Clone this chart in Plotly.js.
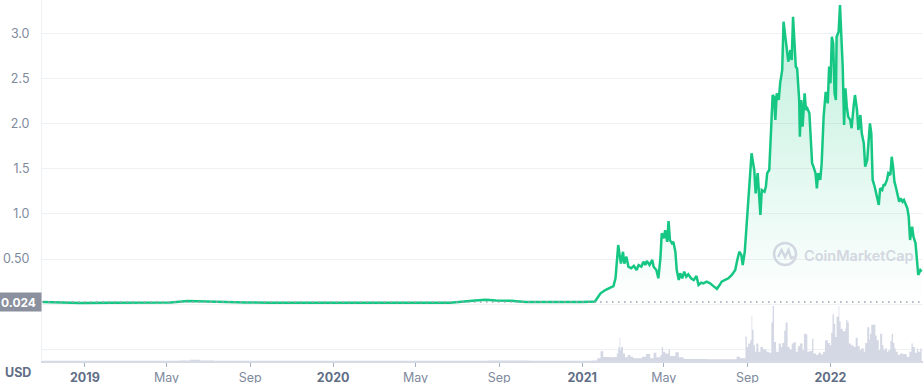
<!DOCTYPE html>
<html>
<head>
<meta charset="utf-8">
<script src="https://cdn.plot.ly/plotly-3.0.1.min.js"></script>
<style>
  html, body { margin: 0; padding: 0; background: #ffffff; }
  #chart { width: 924px; height: 383px; }
</style>
</head>
<body>
<div id="chart"></div>
<script>
// ---------- DATA ----------
const baselinePrice = 0.024;

const priceDates = [
  '2018-10-31','2018-11-09','2018-11-19','2018-12-26','2019-02-07','2019-03-23','2019-05-07','2019-06-01',
  '2019-06-20','2019-07-12','2019-07-30','2019-08-25','2019-10-01','2019-11-14','2020-01-12','2020-03-11',
  '2020-05-08','2020-06-21','2020-07-28','2020-08-12','2020-08-27','2020-09-18','2020-10-10','2020-11-08',
  '2020-12-08','2021-01-01','2021-01-12','2021-01-20',
  '2021-01-23','2021-01-28','2021-02-04','2021-02-11','2021-02-16','2021-02-19','2021-02-21','2021-02-23',
  '2021-02-25','2021-02-27','2021-03-02','2021-03-04','2021-03-07','2021-03-10','2021-03-14','2021-03-18',
  '2021-03-22','2021-03-25','2021-03-29','2021-04-01','2021-04-04','2021-04-06','2021-04-10','2021-04-14',
  '2021-04-16','2021-04-20','2021-04-23','2021-04-26','2021-04-28','2021-05-01','2021-05-03','2021-05-06',
  '2021-05-08','2021-05-10','2021-05-13','2021-05-15','2021-05-18','2021-05-20','2021-05-23','2021-05-25',
  '2021-05-28','2021-05-31','2021-06-03','2021-06-06','2021-06-10','2021-06-14','2021-06-18','2021-06-21',
  '2021-06-25','2021-06-28','2021-07-03','2021-07-08','2021-07-13','2021-07-18','2021-07-22','2021-07-25',
  '2021-07-30','2021-08-04','2021-08-09','2021-08-14','2021-08-17','2021-08-20','2021-08-23','2021-08-25',
  '2021-08-28','2021-08-30','2021-09-01','2021-09-04','2021-09-07','2021-09-11','2021-09-13','2021-09-16',
  '2021-09-18','2021-09-20','2021-09-22','2021-09-26','2021-09-28','2021-09-30','2021-10-03','2021-10-06',
  '2021-10-08','2021-10-10','2021-10-12','2021-10-14','2021-10-17','2021-10-19','2021-10-22','2021-10-24',
  '2021-10-26','2021-10-29','2021-10-31','2021-11-03','2021-11-05','2021-11-07','2021-11-09','2021-11-11',
  '2021-11-13','2021-11-16','2021-11-17','2021-11-19','2021-11-21','2021-11-24','2021-11-26','2021-11-28',
  '2021-12-01','2021-12-03','2021-12-05','2021-12-07','2021-12-10','2021-12-12','2021-12-14','2021-12-17',
  '2021-12-19','2021-12-22','2021-12-25','2021-12-28','2021-12-30','2022-01-01','2022-01-03','2022-01-05',
  '2022-01-07','2022-01-09','2022-01-10','2022-01-13','2022-01-15','2022-01-17','2022-01-19','2022-01-21',
  '2022-01-23','2022-01-25','2022-01-27','2022-01-30','2022-02-01','2022-02-04','2022-02-06','2022-02-09',
  '2022-02-11','2022-02-14','2022-02-16','2022-02-19','2022-02-21','2022-02-24','2022-02-26','2022-02-28',
  '2022-03-02','2022-03-04','2022-03-07','2022-03-09','2022-03-13','2022-03-15','2022-03-18','2022-03-20',
  '2022-03-22','2022-03-25','2022-03-27','2022-03-30','2022-04-01','2022-04-03','2022-04-05','2022-04-07',
  '2022-04-10','2022-04-12','2022-04-14','2022-04-17','2022-04-19','2022-04-22','2022-04-24','2022-04-26',
  '2022-04-28','2022-05-01','2022-05-03','2022-05-06','2022-05-08','2022-05-10','2022-05-13','2022-05-15'
];

const priceValues = [
  0.024,0.022,0.016,0.014,0.015,0.016,0.018,0.034,
  0.030,0.030,0.028,0.020,0.017,0.016,0.016,0.015,
  0.014,0.015,0.040,0.048,0.040,0.038,0.025,0.022,
  0.022,0.024,0.028,0.030,
  0.065,0.120,0.157,0.187,0.200,0.287,0.526,0.655,
  0.545,0.450,0.580,0.450,0.526,0.415,0.397,0.423,
  0.378,0.434,0.415,0.470,0.434,0.480,0.434,0.490,
  0.415,0.378,0.287,0.508,0.785,0.730,0.820,0.690,
  0.920,0.710,0.674,0.690,0.580,0.378,0.268,0.342,
  0.287,0.360,0.305,0.330,0.287,0.268,0.312,0.212,
  0.238,0.231,0.250,0.231,0.200,0.170,0.212,0.250,
  0.268,0.287,0.323,0.378,0.490,0.580,0.545,0.434,
  0.580,0.800,0.930,1.375,1.670,1.485,1.227,1.450,
  1.227,0.987,1.264,1.245,1.300,1.450,1.485,1.965,
  2.315,2.297,2.040,2.334,2.260,2.445,2.590,3.127,
  2.998,2.777,2.684,2.813,2.703,3.182,2.960,2.629,
  2.610,2.260,1.854,2.260,1.965,2.334,2.150,2.168,
  2.113,1.743,1.560,1.522,1.450,1.283,1.450,1.375,
  1.550,2.080,2.350,2.223,2.629,2.445,2.960,2.887,
  2.334,2.260,2.960,3.016,3.310,2.960,2.629,1.983,
  2.390,2.186,2.076,2.040,1.948,2.186,2.315,2.150,
  1.928,2.094,1.892,1.780,1.522,1.596,1.780,2.002,
  1.892,1.375,1.300,1.227,1.098,1.283,1.264,1.320,
  1.320,1.375,1.450,1.430,1.632,1.522,1.356,1.300,
  1.190,1.134,1.172,1.134,1.153,1.098,1.061,0.968,
  0.710,0.858,0.747,0.674,0.489,0.323,0.378,0.360
];

const volumeDates = [
  '2018-10-31','2019-03-01','2019-05-20','2019-06-05','2019-06-20','2019-07-10','2019-10-01','2020-03-10',
  '2020-06-01','2020-08-15','2020-09-05','2020-10-15','2020-12-15','2021-01-15',
  '2021-01-23','2021-01-28','2021-02-01','2021-02-06','2021-02-11','2021-02-19','2021-02-21','2021-02-23',
  '2021-02-25','2021-02-26','2021-02-27','2021-03-02','2021-03-05','2021-03-09','2021-03-13','2021-03-17',
  '2021-03-24','2021-03-30','2021-04-05','2021-04-11','2021-04-16','2021-04-20','2021-04-26','2021-04-28',
  '2021-04-30','2021-05-03','2021-05-08','2021-05-10','2021-05-18','2021-05-23','2021-05-30','2021-06-24',
  '2021-07-04','2021-08-11','2021-08-16','2021-08-21','2021-08-29','2021-08-31','2021-09-02','2021-09-05',
  '2021-09-07','2021-09-08','2021-09-10','2021-09-12','2021-09-14','2021-09-17','2021-09-20','2021-09-24',
  '2021-09-29','2021-10-03','2021-10-06','2021-10-08','2021-10-10','2021-10-13','2021-10-17','2021-10-20',
  '2021-10-22','2021-10-25','2021-10-27','2021-10-30','2021-11-02','2021-11-05','2021-11-08','2021-11-11',
  '2021-11-14','2021-11-17','2021-11-21','2021-11-23','2021-11-26','2021-11-28','2021-12-01','2021-12-05',
  '2021-12-07','2021-12-11','2021-12-14','2021-12-18','2021-12-21','2021-12-24','2021-12-28','2021-12-31',
  '2022-01-02','2022-01-04','2022-01-06','2022-01-08','2022-01-10','2022-01-13','2022-01-14','2022-01-16',
  '2022-01-19','2022-01-23','2022-01-24','2022-01-26','2022-01-28','2022-01-31','2022-02-04','2022-02-07',
  '2022-02-10','2022-02-13','2022-02-15','2022-02-19','2022-02-21','2022-02-24','2022-02-27','2022-02-28',
  '2022-03-02','2022-03-05','2022-03-08','2022-03-10','2022-03-13','2022-03-15','2022-03-18','2022-03-20',
  '2022-03-22','2022-03-25','2022-03-27','2022-03-30','2022-04-01','2022-04-03','2022-04-05','2022-04-07',
  '2022-04-10','2022-04-13','2022-04-17','2022-04-21','2022-04-23','2022-04-27','2022-04-30','2022-05-02',
  '2022-05-05','2022-05-08','2022-05-10','2022-05-13','2022-05-15'
];

const volumeValues = [
  0.2,0.2,0.4,1.2,0.6,0.3,0.2,0.2,
  0.2,0.4,0.5,0.2,0.2,0.6,
  2.7,10,4,4,3.7,4,7.7,13.7,
  23.3,11,14.3,7.7,3.7,6,4.3,2.7,
  2.7,4.3,7,2.7,8.3,3.7,6,14.3,
  9.3,7.7,11.7,5,9,3.7,2,2,
  1.7,1.7,4.3,2.7,25,14.3,17.7,21,
  46,31.7,16,9.3,17.7,9.3,14.3,11.7,
  9.3,8.3,39.3,56,19.3,9.3,17.7,14.3,
  18.3,31,39.3,14.3,11.7,17.7,19.3,9.3,
  15,17.7,11,27.7,27,9.3,10.3,22.7,
  7.7,6,8.3,6.7,9.3,21,18.3,16,
  28.7,47.7,37.7,24.3,45,56,40.3,32.7,
  30.3,33.7,41.7,39.3,17.7,16,14.3,23.7,
  15,11,12.7,9.3,18.3,34.3,21.7,27.7,
  37,37,26,21,11,27.7,16,11,
  12.7,9.3,11,20.3,27.7,18.3,12.7,9.3,
  6,7.7,7,7,4.3,9.3,17.7,14.3,
  8.3,12.7,9.3,12.7,9.3
];

const xTickDates  = ['2019-01-01','2019-05-01','2019-09-01','2020-01-01','2020-05-01','2020-09-01','2021-01-01','2021-05-01','2021-09-01','2022-01-01'];
const xTickLabels = ['2019','May','Sep','2020','May','Sep','2021','May','Sep','2022'];
const yTickValues = [0, 0.5, 1, 1.5, 2, 2.5, 3];
const yTickLabels = ['', '0.50', '1.0', '1.5', '2.0', '2.5', '3.0'];

// ---------- STYLE ----------
const GREEN = '#16c784';
const GRID = '#eff2f5';
const LABEL = '#808a9d';
const DARK = '#616e85';

const xTickText = xTickLabels.map(t => /^\d{4}$/.test(t)
  ? '<span style="font-weight:700;color:' + DARK + '">' + t + '</span>' : t);

const traces = [
  {
    x: volumeDates, y: volumeValues, xaxis: 'x', yaxis: 'y2',
    type: 'scatter', mode: 'lines', line: {shape: 'hv', width: 0, color: '#cfd5e2'},
    fill: 'tozeroy', fillcolor: '#d3d8e4', hoverinfo: 'skip'
  },
  {
    x: priceDates, y: priceValues, xaxis: 'x', yaxis: 'y',
    type: 'scatter', mode: 'lines',
    line: {color: GREEN, width: 2.5},
    fill: 'tozeroy',
    fillgradient: {type: 'vertical', colorscale: [[0, 'rgba(22,199,132,0.0)'], [1, 'rgba(22,199,132,0.28)']]},
    hoverinfo: 'skip'
  }
];

const domSplit = 0.1524;

const layout = {
  width: 924, height: 383,
  margin: {l: 42, r: 1, t: 0, b: 22},
  paper_bgcolor: '#ffffff', plot_bgcolor: '#ffffff',
  font: {family: 'Inter, "Open Sans", sans-serif', size: 12, color: LABEL},
  showlegend: false,
  xaxis: {
    type: 'date', range: ['2018-10-30', '2022-05-17'], anchor: 'y2',
    tickmode: 'array', tickvals: xTickDates, ticktext: xTickText,
    ticks: 'outside', ticklen: 4, tickwidth: 1, tickcolor: '#a6b0c3',
    showline: true, linecolor: '#d5dae4', linewidth: 1.5,
    showgrid: false, zeroline: false,
    tickfont: {size: 12.5, color: LABEL}
  },
  yaxis: {
    domain: [domSplit, 1], range: [-0.0199, 3.367],
    tickmode: 'array', tickvals: yTickValues, ticktext: yTickLabels,
    gridcolor: GRID, gridwidth: 1, zeroline: false,
    showline: true, linecolor: GRID, linewidth: 1,
    ticks: '', ticklabelstandoff: 9,
    tickfont: {size: 12.5, color: LABEL}
  },
  yaxis2: {
    domain: [0, domSplit], range: [0, 56],
    tickmode: 'array', tickvals: [11.7], showticklabels: false,
    gridcolor: GRID, gridwidth: 1, zeroline: false,
    showline: true, linecolor: GRID, linewidth: 1
  },
  shapes: [
    {type: 'line', xref: 'paper', x0: 0, x1: 1, yref: 'y', y0: baselinePrice, y1: baselinePrice,
     line: {color: '#9aa2b1', width: 1.5, dash: '1.5px,4.5px'}},
    // CoinMarketCap watermark logo
    {type: 'circle', xref: 'paper', yref: 'paper', xsizemode: 'pixel', ysizemode: 'pixel',
     xanchor: 0.8434, yanchor: 0.2964, x0: -11, x1: 11, y0: -11, y1: 11,
     line: {color: '#d3d7e1', width: 2.5}, fillcolor: 'rgba(0,0,0,0)'},
    {type: 'path', xref: 'paper', yref: 'paper', xsizemode: 'pixel', ysizemode: 'pixel',
     xanchor: 0.8434, yanchor: 0.2964,
     path: 'M -7 -3 L -3.5 4 L 0 -3 L 3.5 4 L 6 -4 L 9 -3',
     line: {color: '#d3d7e1', width: 2.5}}
  ],
  annotations: [
    {xref: 'paper', x: 0, xanchor: 'right', xshift: 0, yref: 'y', y: baselinePrice, yanchor: 'middle',
     text: '<b>' + baselinePrice.toFixed(3) + '</b>', showarrow: false,
     bgcolor: '#8a909e', font: {color: '#ffffff', size: 12}, width: 38, height: 14, borderpad: 2, align: 'left'},
    {xref: 'paper', x: -0.0278, yref: 'paper', y: -0.033, xanchor: 'center', yanchor: 'middle',
     text: '<b>USD</b>', showarrow: false, font: {color: DARK, size: 12.5}},
    {xref: 'paper', x: 0.9274, yref: 'paper', y: 0.2936, xanchor: 'center', yanchor: 'middle',
     text: 'CoinMarketCap', showarrow: false, font: {color: '#d3d7e1', size: 14.5, weight: 600}}
  ]
};

Plotly.newPlot('chart', traces, layout, {staticPlot: true, displayModeBar: false});
</script>
</body>
</html>
